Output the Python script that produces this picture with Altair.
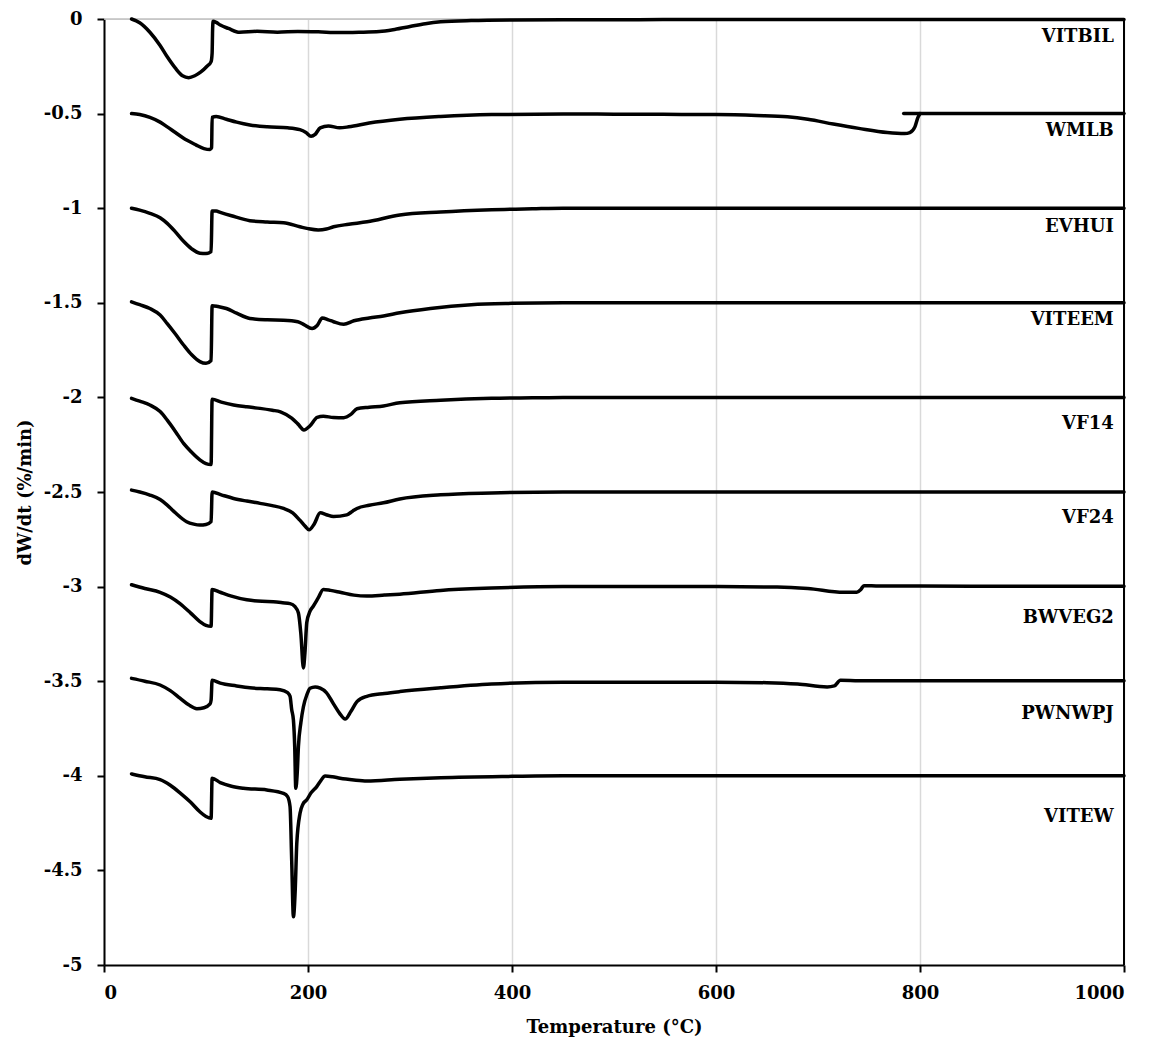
import altair as alt
import pandas as pd

FONT = "DejaVu Serif"

series_names = ["VITBIL", "WMLB", "EVHUI", "VITEEM", "VF14", "VF24", "BWVEG2", "PWNWPJ", "VITEW"]

T_VITBIL = [27, 35, 45, 55, 62, 70, 77, 83, 89, 95, 101, 105, 106, 106.5, 107, 110, 114, 122, 133, 150, 170, 190, 210, 230, 250, 270, 285, 300, 315, 330, 360, 400, 450, 500, 548, 600, 700, 800, 900, 1000]
Y_VITBIL = [0, -0.02, -0.07, -0.14, -0.2, -0.26, -0.3, -0.31, -0.3, -0.28, -0.25, -0.225, -0.18, -0.05, -0.012, -0.018, -0.032, -0.05, -0.07, -0.065, -0.07, -0.066, -0.068, -0.072, -0.07, -0.066, -0.055, -0.04, -0.025, -0.015, -0.008, -0.005, -0.004, -0.004, -0.003, -0.003, -0.003, -0.002, -0.002, -0.002]

# WMLB: main trace up to the step near 800 °C, then the trace restarts slightly earlier at -0.5
T_WMLB = [27, 35, 45, 55, 62, 70, 81, 90, 98, 104, 105.5, 106, 110, 120, 130, 143, 160, 180, 192, 198, 203, 207, 212, 220, 231, 240, 260, 290, 330, 380, 450, 500, 548, 600, 640, 670, 690, 715, 740, 768, 785, 790, 795, 798, 800]
Y_WMLB = [-0.5, -0.505, -0.52, -0.545, -0.57, -0.6, -0.64, -0.665, -0.685, -0.69, -0.68, -0.52, -0.515, -0.53, -0.545, -0.56, -0.57, -0.575, -0.585, -0.6, -0.62, -0.61, -0.575, -0.565, -0.575, -0.57, -0.55, -0.53, -0.515, -0.505, -0.502, -0.503, -0.504, -0.505, -0.51, -0.517, -0.53, -0.555, -0.578, -0.6, -0.605, -0.6, -0.57, -0.52, -0.5]
T_WMLB_B = [784, 850, 900, 950, 1000]
Y_WMLB_B = [-0.5, -0.5, -0.5, -0.5, -0.5]

T_EVHUI = [27, 35, 45, 55, 62, 70, 78, 86, 94, 100, 105, 106, 110, 114, 125, 143, 160, 176, 192, 200, 210, 218, 225, 240, 258, 290, 330, 380, 420, 450, 548, 600, 700, 800, 900, 1000]
Y_EVHUI = [-1.0, -1.01, -1.027, -1.05, -1.08, -1.125, -1.175, -1.215, -1.238, -1.24, -1.23, -1.015, -1.015, -1.022, -1.04, -1.066, -1.073, -1.077, -1.098, -1.108, -1.115, -1.11, -1.098, -1.085, -1.072, -1.036, -1.02, -1.008, -1.003, -1.0, -1.0, -1.0, -1.0, -1.0, -1.0, -1.0]

T_VITEEM = [27, 35, 45, 55, 62, 70, 78, 86, 94, 100, 105, 106, 112, 120, 130, 143, 160, 176, 190, 196, 204, 209, 214, 220, 225, 235, 245, 260, 274, 290, 320, 360, 400, 450, 548, 600, 700, 800, 900, 1000]
Y_VITEEM = [-1.495, -1.51, -1.53, -1.565, -1.61, -1.665, -1.723, -1.775, -1.811, -1.82, -1.805, -1.515, -1.52, -1.53, -1.555, -1.583, -1.59, -1.592, -1.6, -1.615, -1.636, -1.62, -1.58, -1.59, -1.6, -1.614, -1.595, -1.58, -1.57, -1.553, -1.53, -1.51, -1.503, -1.5, -1.5, -1.5, -1.5, -1.5, -1.5, -1.5]

T_VF14 = [27, 35, 45, 55, 62, 70, 78, 86, 94, 100, 105, 106, 115, 127, 140, 153, 165, 173, 184, 190, 196, 202, 209, 215, 225, 235, 242, 248, 260, 274, 290, 330, 380, 420, 450, 548, 600, 700, 800, 900, 1000]
Y_VF14 = [-2.005, -2.02, -2.04, -2.075, -2.12, -2.18, -2.243, -2.29, -2.33, -2.35, -2.355, -2.01, -2.025, -2.04, -2.05, -2.058, -2.068, -2.076, -2.11, -2.14, -2.172, -2.15, -2.106, -2.1, -2.106, -2.107, -2.09, -2.06, -2.052, -2.045, -2.028, -2.015, -2.005, -2.002, -2.0, -2.0, -2.0, -2.0, -2.0, -2.0, -2.0]

T_VF24 = [27, 35, 45, 55, 62, 70, 81, 88, 94, 100, 105, 106, 115, 127, 140, 153, 165, 176, 185, 192, 197, 201, 206, 212, 218, 225, 238, 244, 248, 260, 274, 290, 330, 380, 450, 548, 600, 700, 800, 900, 1000]
Y_VF24 = [-2.49, -2.5, -2.516, -2.54, -2.569, -2.61, -2.657, -2.67, -2.675, -2.672, -2.657, -2.5, -2.515, -2.534, -2.548, -2.56, -2.572, -2.587, -2.61, -2.649, -2.68, -2.7, -2.67, -2.61, -2.62, -2.63, -2.621, -2.6, -2.587, -2.57, -2.557, -2.537, -2.515, -2.505, -2.5, -2.5, -2.5, -2.5, -2.5, -2.5, -2.5]

T_BWVEG2 = [27, 40, 55, 65, 74.5, 85, 94, 100, 105, 106, 114, 125, 140, 155, 166, 175, 182.4, 187, 190.6, 193, 195.5, 197, 198.8, 202, 205, 210, 215, 222, 231.5, 245, 257.7, 275, 290, 330, 380, 450, 548, 600, 660, 690, 725, 738, 742, 745, 760, 800, 900, 1000]
Y_BWVEG2 = [-2.99, -3.01, -3.03, -3.055, -3.09, -3.14, -3.185, -3.205, -3.21, -3.015, -3.03, -3.05, -3.07, -3.078, -3.08, -3.085, -3.09, -3.105, -3.14, -3.25, -3.43, -3.35, -3.19, -3.13, -3.105, -3.06, -3.015, -3.02, -3.03, -3.045, -3.05, -3.045, -3.04, -3.02, -3.008, -3.0, -3.0, -3.0, -3.002, -3.01, -3.03, -3.03, -3.015, -2.995, -2.997, -2.997, -2.998, -2.998]

T_PWNWPJ = [27, 40, 55, 65, 74.5, 83, 91, 98, 104, 105, 106, 114, 130, 143, 160, 172.6, 180, 182.4, 184, 185.7, 187, 188, 189.5, 190.6, 193, 195.5, 199, 202, 207, 212, 218, 225, 231, 236.4, 242, 248, 257.7, 275, 290, 330, 380, 450, 548, 600, 650, 680, 709, 716, 722, 740, 800, 900, 1000]
Y_PWNWPJ = [-3.485, -3.5, -3.52, -3.55, -3.59, -3.625, -3.645, -3.64, -3.62, -3.6, -3.495, -3.51, -3.525, -3.535, -3.54, -3.545, -3.56, -3.58, -3.65, -3.705, -3.85, -4.066, -3.98, -3.846, -3.72, -3.635, -3.57, -3.537, -3.53, -3.537, -3.56, -3.62, -3.67, -3.7, -3.66, -3.608, -3.58, -3.565, -3.555, -3.535, -3.515, -3.505, -3.505, -3.505, -3.508, -3.515, -3.53, -3.525, -3.495, -3.497, -3.498, -3.498, -3.498]

T_VITEW = [27, 40, 55, 65, 74.5, 85, 94, 100, 105, 106, 114, 125, 136.6, 159.6, 176, 180, 182.4, 184, 185.7, 187.5, 189, 192.2, 195, 198.8, 203, 208.6, 212, 216.8, 224, 231.5, 245, 257.7, 290, 330, 400, 450, 548, 600, 700, 800, 900, 1000]
Y_VITEW = [-3.99, -4.005, -4.02, -4.05, -4.09, -4.14, -4.19, -4.215, -4.225, -4.013, -4.036, -4.055, -4.066, -4.075, -4.093, -4.11, -4.163, -4.445, -4.745, -4.6, -4.357, -4.198, -4.15, -4.127, -4.09, -4.057, -4.03, -4.001, -4.005, -4.013, -4.022, -4.027, -4.018, -4.01, -4.003, -4.0, -4.0, -4.0, -4.0, -4.0, -4.0, -4.0]

label_x = [990] * 9
label_y = [-0.095, -0.591, -1.099, -1.59, -2.14, -2.637, -3.166, -3.673, -4.217]

x_ticks = [0, 200, 400, 600, 800, 1000]
y_ticks = [0, -0.5, -1, -1.5, -2, -2.5, -3, -3.5, -4, -4.5, -5]

traces = [
    ("VITBIL", T_VITBIL, Y_VITBIL),
    ("WMLB", T_WMLB, Y_WMLB),
    ("WMLB_b", T_WMLB_B, Y_WMLB_B),
    ("EVHUI", T_EVHUI, Y_EVHUI),
    ("VITEEM", T_VITEEM, Y_VITEEM),
    ("VF14", T_VF14, Y_VF14),
    ("VF24", T_VF24, Y_VF24),
    ("BWVEG2", T_BWVEG2, Y_BWVEG2),
    ("PWNWPJ", T_PWNWPJ, Y_PWNWPJ),
    ("VITEW", T_VITEW, Y_VITEW),
]

rows = []
for name, ts, ys in traces:
    for i, (t, y) in enumerate(zip(ts, ys)):
        rows.append({"series": name, "T": t, "y": y, "i": i})
df = pd.DataFrame(rows)

df_labels = pd.DataFrame({"name": series_names, "lx": label_x, "ly": label_y})

x_scale = alt.Scale(domain=[0, 1000], nice=False)
y_scale = alt.Scale(domain=[-5, 0], nice=False)

x_axis = alt.Axis(
    values=x_ticks, grid=True, gridColor="#d9d9d9", gridWidth=1.5,
    domainColor="black", domainWidth=2, tickColor="black", tickWidth=2, tickSize=7,
    labelFontSize=18, labelFontWeight="bold", labelPadding=12, labelColor="black", labelFont=FONT,
    labelExpr="toString(datum.value)",
    title="Temperature (°C)", titleFont=FONT, titleFontSize=18, titleFontWeight="bold",
    titleColor="black", titleX=510, titleY=62, titleBaseline="middle", titleAlign="center",
)
y_axis = alt.Axis(
    values=y_ticks, grid=False,
    domainColor="black", domainWidth=2, tickColor="black", tickWidth=2, tickSize=7,
    labelFontSize=18, labelFontWeight="bold", labelPadding=15, labelColor="black", labelFont=FONT,
    labelExpr="toString(datum.value)",
    title="dW/dt (%/min)", titleFont=FONT, titleFontSize=18, titleFontWeight="bold",
    titleColor="black", titleX=-79, titleY=473, titleAngle=270,
    titleBaseline="middle", titleAlign="center",
)

lines = alt.Chart(df).mark_line(
    color="black", strokeWidth=3.5, strokeJoin="round", strokeCap="round",
    interpolate="monotone",
).encode(
    x=alt.X("T:Q", scale=x_scale, axis=x_axis),
    y=alt.Y("y:Q", scale=y_scale, axis=y_axis),
    detail="series:N",
    order=alt.Order("i:Q"),
)

top_rule = alt.Chart(pd.DataFrame({"x": [0], "x2": [1000], "y": [0]})).mark_rule(
    color="#bfbfbf", strokeWidth=1.5
).encode(x=alt.X("x:Q", scale=x_scale), x2="x2:Q", y=alt.Y("y:Q", scale=y_scale))

right_rule = alt.Chart(pd.DataFrame({"x": [1000], "y": [0], "y2": [-5]})).mark_rule(
    color="black", strokeWidth=2
).encode(x=alt.X("x:Q", scale=x_scale), y=alt.Y("y:Q", scale=y_scale), y2="y2:Q")

labels = alt.Chart(df_labels).mark_text(
    align="right", baseline="middle", font=FONT, fontSize=18, fontWeight="bold", color="black"
).encode(
    x=alt.X("lx:Q", scale=x_scale),
    y=alt.Y("ly:Q", scale=y_scale),
    text="name:N",
)

chart = alt.layer(top_rule, right_rule, lines, labels).properties(
    width=1020, height=946,
    autosize=alt.AutoSizeParams(type="none"),
    padding={"left": 104, "top": 19, "right": 27, "bottom": 75},
).configure_view(stroke=None).configure(background="white")

chart.save("out.html", embed_options={"renderer": "svg", "actions": False})
